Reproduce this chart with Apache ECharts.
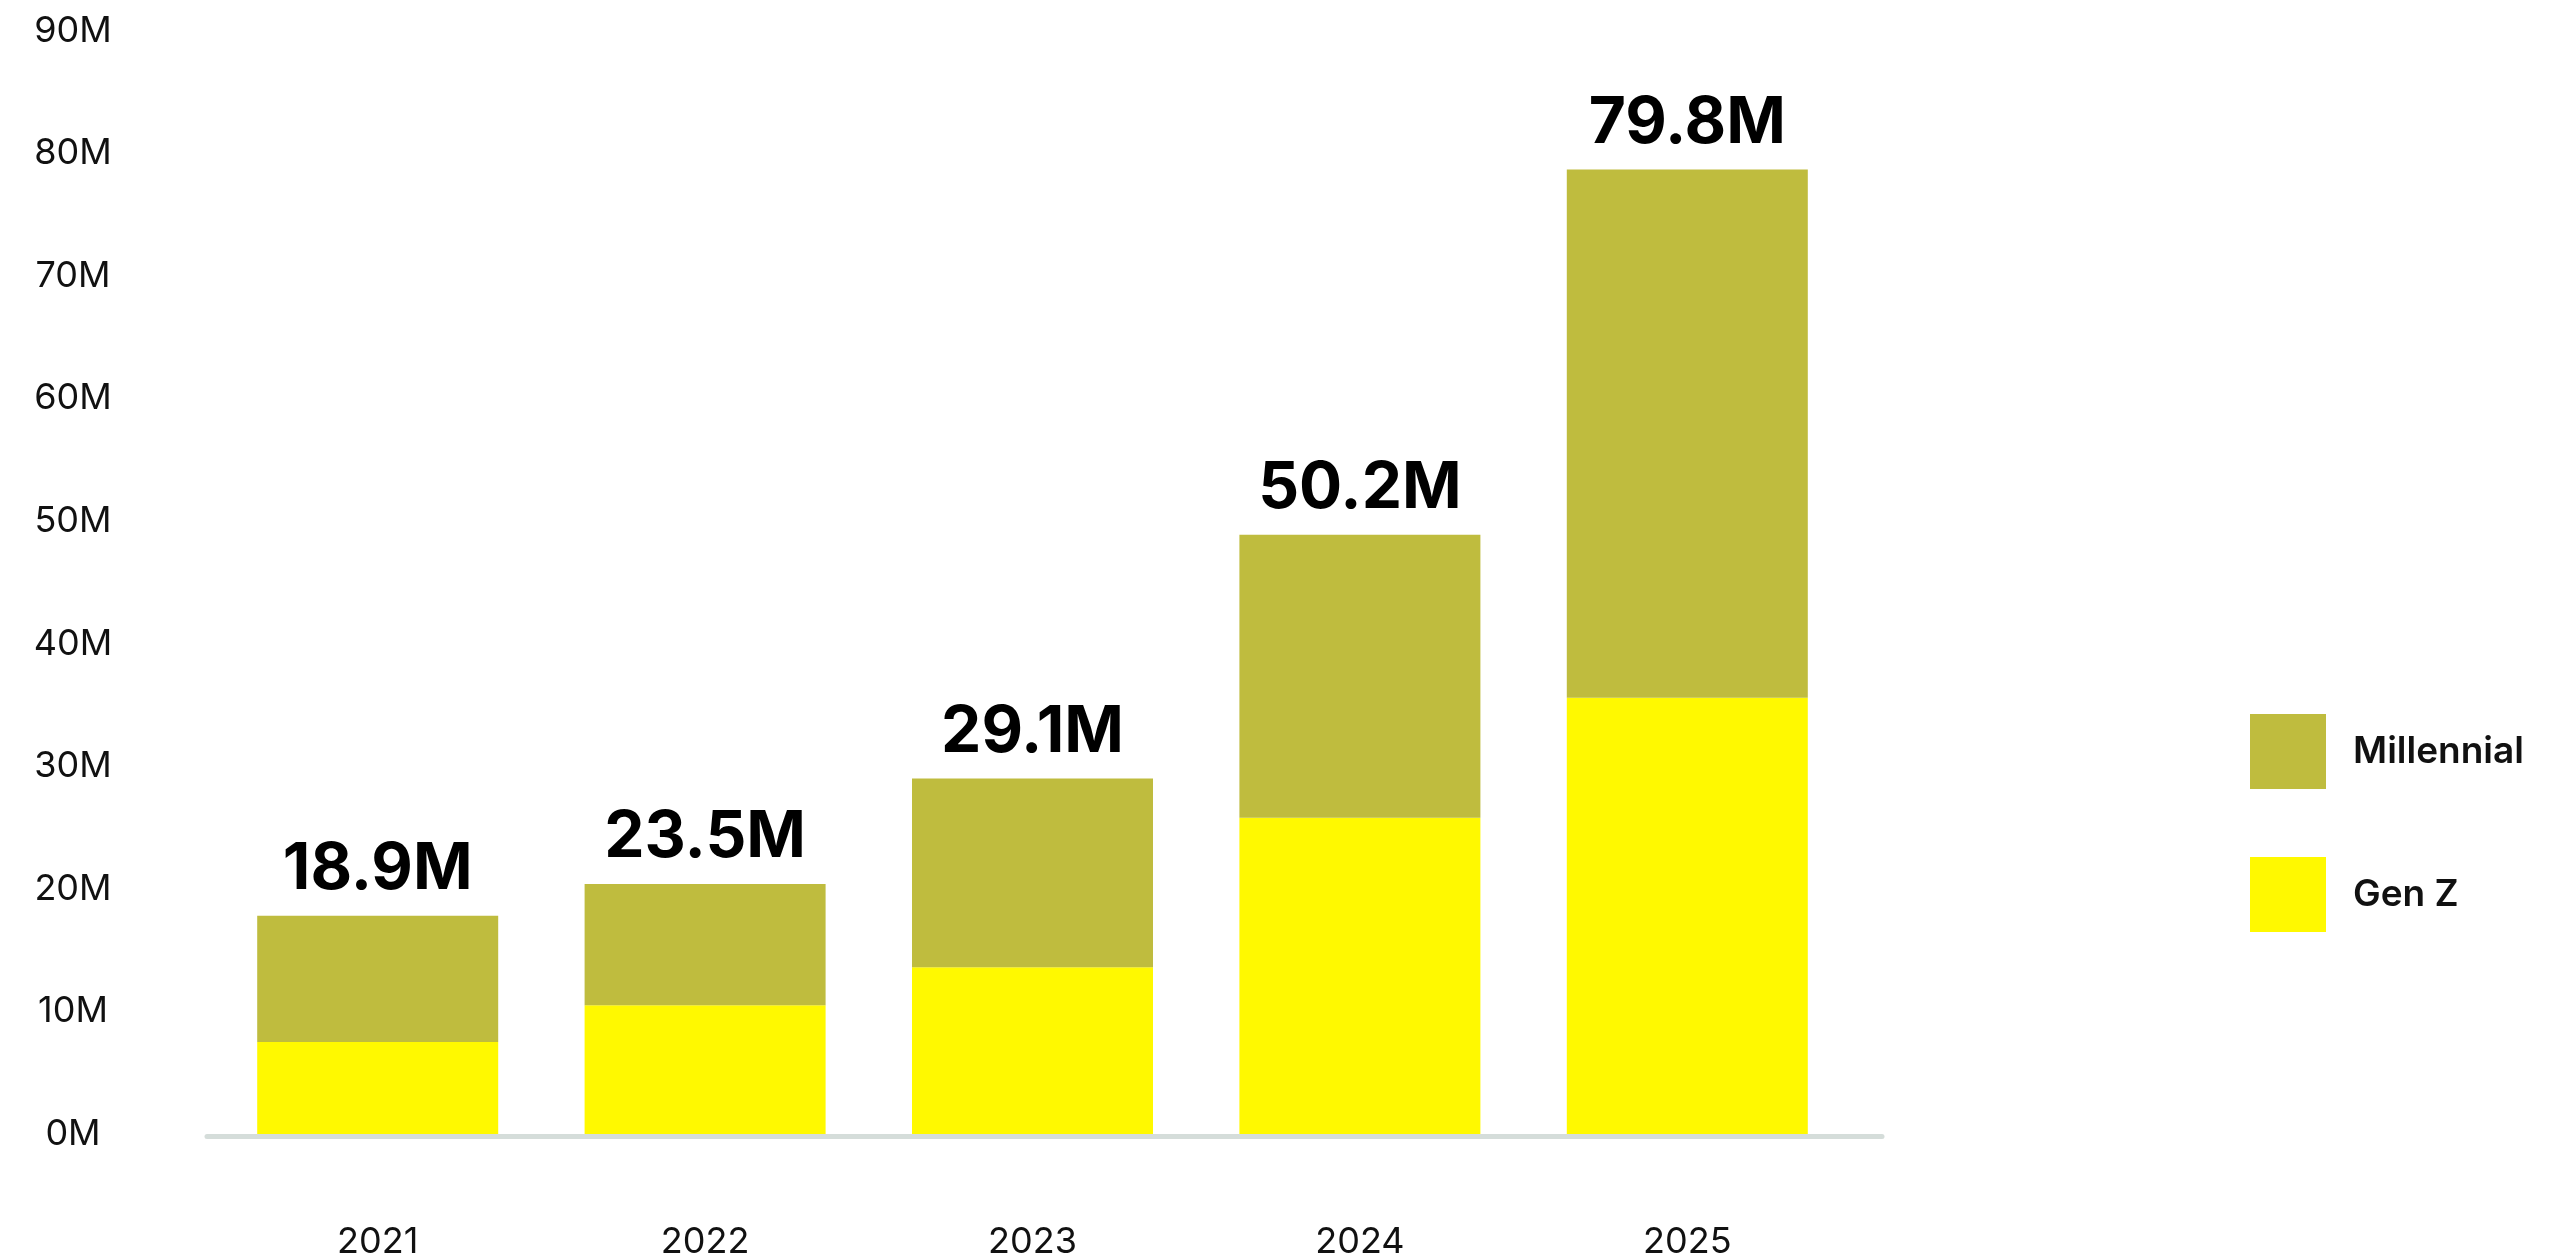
<!DOCTYPE html>
<html>
<head>
<meta charset="utf-8">
<script src="https://cdn.jsdelivr.net/npm/echarts@6/dist/echarts.min.js"></script>
<style>
html,body{margin:0;padding:0;background:#fff;}
#chart{width:2561px;height:1260px;}
</style>
</head>
<body>
<div id="chart"></div>
<script>
var years = ['2021', '2022', '2023', '2024', '2025'];
var genZ = [7.5, 10.5, 13.6, 25.8, 35.6];
var millennial = [10.3, 9.9, 15.4, 23.1, 43.1];
var totalLabels = ['18.9M', '23.5M', '29.1M', '50.2M', '79.8M'];
var seriesNames = ['Millennial', 'Gen Z'];
var yMin = 0, yMax = 90, yStep = 10;

var FONT = 'Inter, "Noto Sans", sans-serif';
var chart = echarts.init(document.getElementById('chart'), null, {renderer: 'canvas'});

var option = {
  backgroundColor: '#ffffff',
  animation: false,
  legend: {
    data: seriesNames,
    orient: 'vertical',
    left: 2245,
    top: 709,
    itemWidth: 76,
    itemHeight: 75,
    itemGap: 68,
    icon: 'rect',
    textStyle: {fontFamily: FONT, fontSize: 37, fontWeight: 600, color: '#111', padding: [0, 0, 0, 22]}
  },
  grid: [
    {left: 214, right: 710, top: 31, bottom: 124, containLabel: false},
    {left: 207, right: 679, top: 31, bottom: 124, containLabel: false}
  ],
  xAxis: [
    {
      type: 'category',
      gridIndex: 0,
      data: years,
      axisLine: {show: false},
      axisTick: {show: false},
      axisLabel: {fontFamily: FONT, fontSize: 36, color: '#111', margin: 90}
    },
    {
      type: 'value',
      gridIndex: 1,
      min: 0, max: 1,
      axisLine: {show: true, lineStyle: {color: '#d5ddda', width: 5}},
      axisTick: {show: false},
      axisLabel: {show: false},
      splitLine: {show: false}
    }
  ],
  yAxis: [
    {
      type: 'value',
      gridIndex: 0,
      min: yMin, max: yMax, interval: yStep,
      axisLine: {show: false},
      axisTick: {show: false},
      splitLine: {show: false},
      axisLabel: {fontFamily: FONT, fontSize: 36, color: '#111', align: 'center', margin: 141, formatter: '{value}M'}
    },
    {
      type: 'value',
      gridIndex: 1,
      show: false,
      min: 0, max: 1
    }
  ],
  series: [
    {
      name: 'Gen Z',
      type: 'bar',
      stack: 'total',
      xAxisIndex: 0, yAxisIndex: 0,
      barWidth: 241,
      itemStyle: {color: '#fff900'},
      data: genZ
    },
    {
      name: 'Millennial',
      type: 'bar',
      stack: 'total',
      xAxisIndex: 0, yAxisIndex: 0,
      barWidth: 241,
      itemStyle: {color: '#bfbc3e'},
      label: {
        show: true,
        position: 'top',
        distance: 14,
        fontFamily: FONT,
        fontSize: 64,
        fontWeight: 700,
        color: '#000',
        formatter: function (p) { return totalLabels[p.dataIndex]; }
      },
      data: millennial
    }
  ]
};
chart.setOption(option);
</script>
</body>
</html>
